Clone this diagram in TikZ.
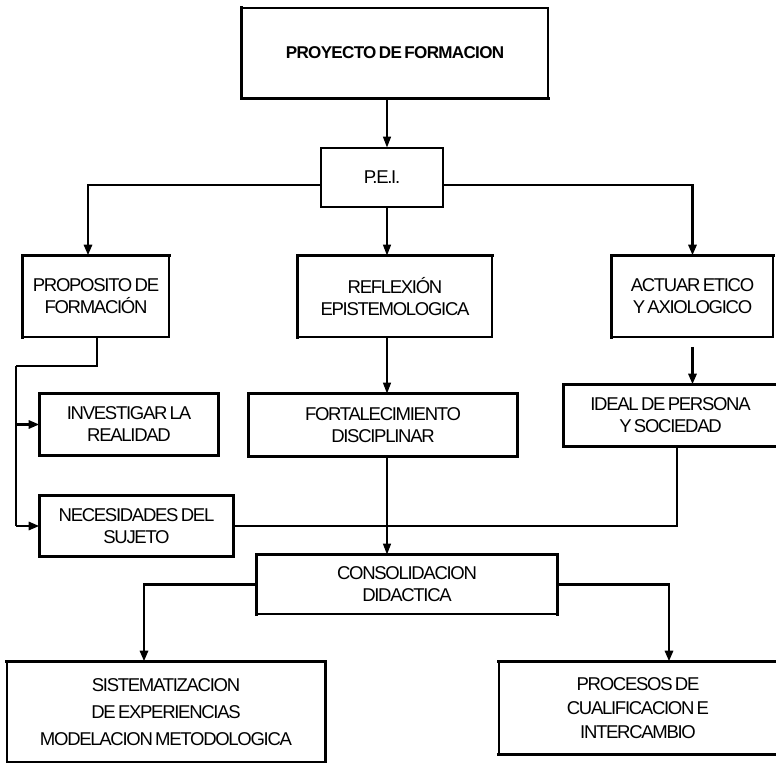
\documentclass[tikz,border=0pt]{standalone}
\usepackage{fontspec}
\setmainfont{Liberation Sans}[LetterSpace=-7,WordSpace=0.6]
\newfontfamily\titlefont{Liberation Sans}[LetterSpace=-4,WordSpace=0.6]
\usetikzlibrary{arrows.meta,calc}
\newdimen\pxu \pxu=0.75pt

% heavy border pieces drawn over the thin frame of a box
\newcommand\heavyedges[2]{%
  \foreach \ea/\eb in {#2} {\draw[edgeline] (#1.\ea) -- (#1.\eb);}}

\tikzset{
  box/.style={draw, line width=0.9pt, align=center, inner sep=0pt,
    font=\fontsize{13.9pt}{16.5pt}\selectfont},
  edgeline/.style={line width=2.2pt, line cap=rect},
  link/.style={line width=0.8pt, -{Triangle[length=8pt,width=6pt]}},
  heavylink/.style={line width=2.2pt, -{Triangle[length=8pt,width=6pt]}},
  heavyline/.style={line width=2.2pt},
  spineline/.style={line width=1.4pt},
}

\begin{document}
\begin{tikzpicture}[x=0.75pt,y=-0.75pt]
\useasboundingbox (0,0) rectangle (776,763);

% boxes
\node[box, minimum width=306\pxu, minimum height=90\pxu] (proy) at (395,53)
  {\titlefont\bfseries\fontsize{12.8pt}{15pt}\selectfont PROYECTO DE FORMACION};
\node[box, minimum width=122\pxu, minimum height=59\pxu] (pei) at (382,177.5) {P.E.I.};
\node[box, minimum width=146\pxu, minimum height=81\pxu] (prop) at (96,296.5)
  {PROPOSITO DE\\FORMACIÓN};
\node[box, minimum width=194\pxu, minimum height=81\pxu] (refl) at (395,296.5)
  {REFLEXIÓN\\EPISTEMOLOGICA};
\node[box, minimum width=161\pxu, minimum height=81\pxu] (act) at (692.5,296.5)
  {ACTUAR ETICO\\Y AXIOLOGICO};
\node[box, minimum width=178\pxu, minimum height=61\pxu] (inv) at (129,424.5)
  {INVESTIGAR LA\\REALIDAD};
\node[box, minimum width=268\pxu, minimum height=62\pxu] (fort) at (383,425)
  {FORTALECIMIENTO\\DISCIPLINAR};
\node[box, minimum width=213\pxu, minimum height=61\pxu] (ideal) at (670.5,415.5)
  {IDEAL DE PERSONA\\Y SOCIEDAD};
\node[box, minimum width=193\pxu, minimum height=60\pxu] (nec) at (136.5,526)
  {NECESIDADES DEL\\SUJETO};
\node[box, minimum width=300\pxu, minimum height=59\pxu] (cons) at (407,584.5)
  {CONSOLIDACION\\DIDACTICA};
\node[box, minimum width=318\pxu, minimum height=100\pxu,
  font=\fontsize{13.9pt}{20pt}\selectfont] (sis) at (166,712)
  {SISTEMATIZACION\\DE EXPERIENCIAS\\MODELACION METODOLOGICA};
\node[box, minimum width=278\pxu, minimum height=92\pxu,
  font=\fontsize{13.9pt}{18pt}\selectfont] (proc) at (638,708)
  {PROCESOS DE\\CUALIFICACION E\\INTERCAMBIO};

% heavier sides of the frames
\heavyedges{proy}{north west/south west, south west/south east}
\heavyedges{prop}{north west/north east, north west/south west}
\heavyedges{refl}{north west/north east, north west/south west}
\heavyedges{act}{north west/north east, north west/south west}
\heavyedges{inv}{north west/north east, north west/south west, south west/south east, north east/south east}
\heavyedges{fort}{north west/north east, north west/south west, south west/south east, north east/south east}
\heavyedges{ideal}{north west/north east, north west/south west, south west/south east}
\heavyedges{nec}{north west/north east, north west/south west, south west/south east, north east/south east}
\heavyedges{cons}{north west/north east, north west/south west, north east/south east}
\heavyedges{sis}{north west/north east, north east/south east}
\heavyedges{proc}{north west/north east, south west/south east}

% reference positions for the connectors
\coordinate (cx) at (387,0);
\coordinate (ybar) at (0,185);
\coordinate (lx) at (88,0);
\coordinate (pdrop) at (97,0);
\coordinate (spine) at (16,366);
\coordinate (ix) at (677,0);
\coordinate (sx) at (144,0);
\coordinate (rx) at (669,0);

% central trunk
\draw[link] (proy.south -| cx) -- (pei.north -| cx);
\draw[link] (pei.south -| cx) -- (refl.north -| cx);
\draw[link] (refl.south -| cx) -- (fort.north -| cx);

% side branches from P.E.I.
\draw[heavylink] (pei.west |- ybar) -| (prop.north -| lx);
\draw[heavylink] (pei.east |- ybar) -| (act.north);

% left spine
\draw[heavyline] (prop.south -| pdrop) |- (spine);
\draw[spineline] (spine) -- (spine |- nec.west);
\draw[heavylink] (spine |- inv.west) -- (inv.west);
\draw[heavylink] (spine |- nec.west) -- (nec.west);

% right column
\draw[heavylink, shorten <=7pt] (act.south) -- (act.south |- ideal.north);
\draw[heavyline] (nec.east) -| (ideal.south -| ix);
\draw[link] (fort.south -| cx) -- (cons.north -| cx);

% outputs
\draw[heavylink] (cons.west) -| (sis.north -| sx);
\draw[heavylink] (cons.east) -| (proc.north -| rx);
\end{tikzpicture}
\end{document}
